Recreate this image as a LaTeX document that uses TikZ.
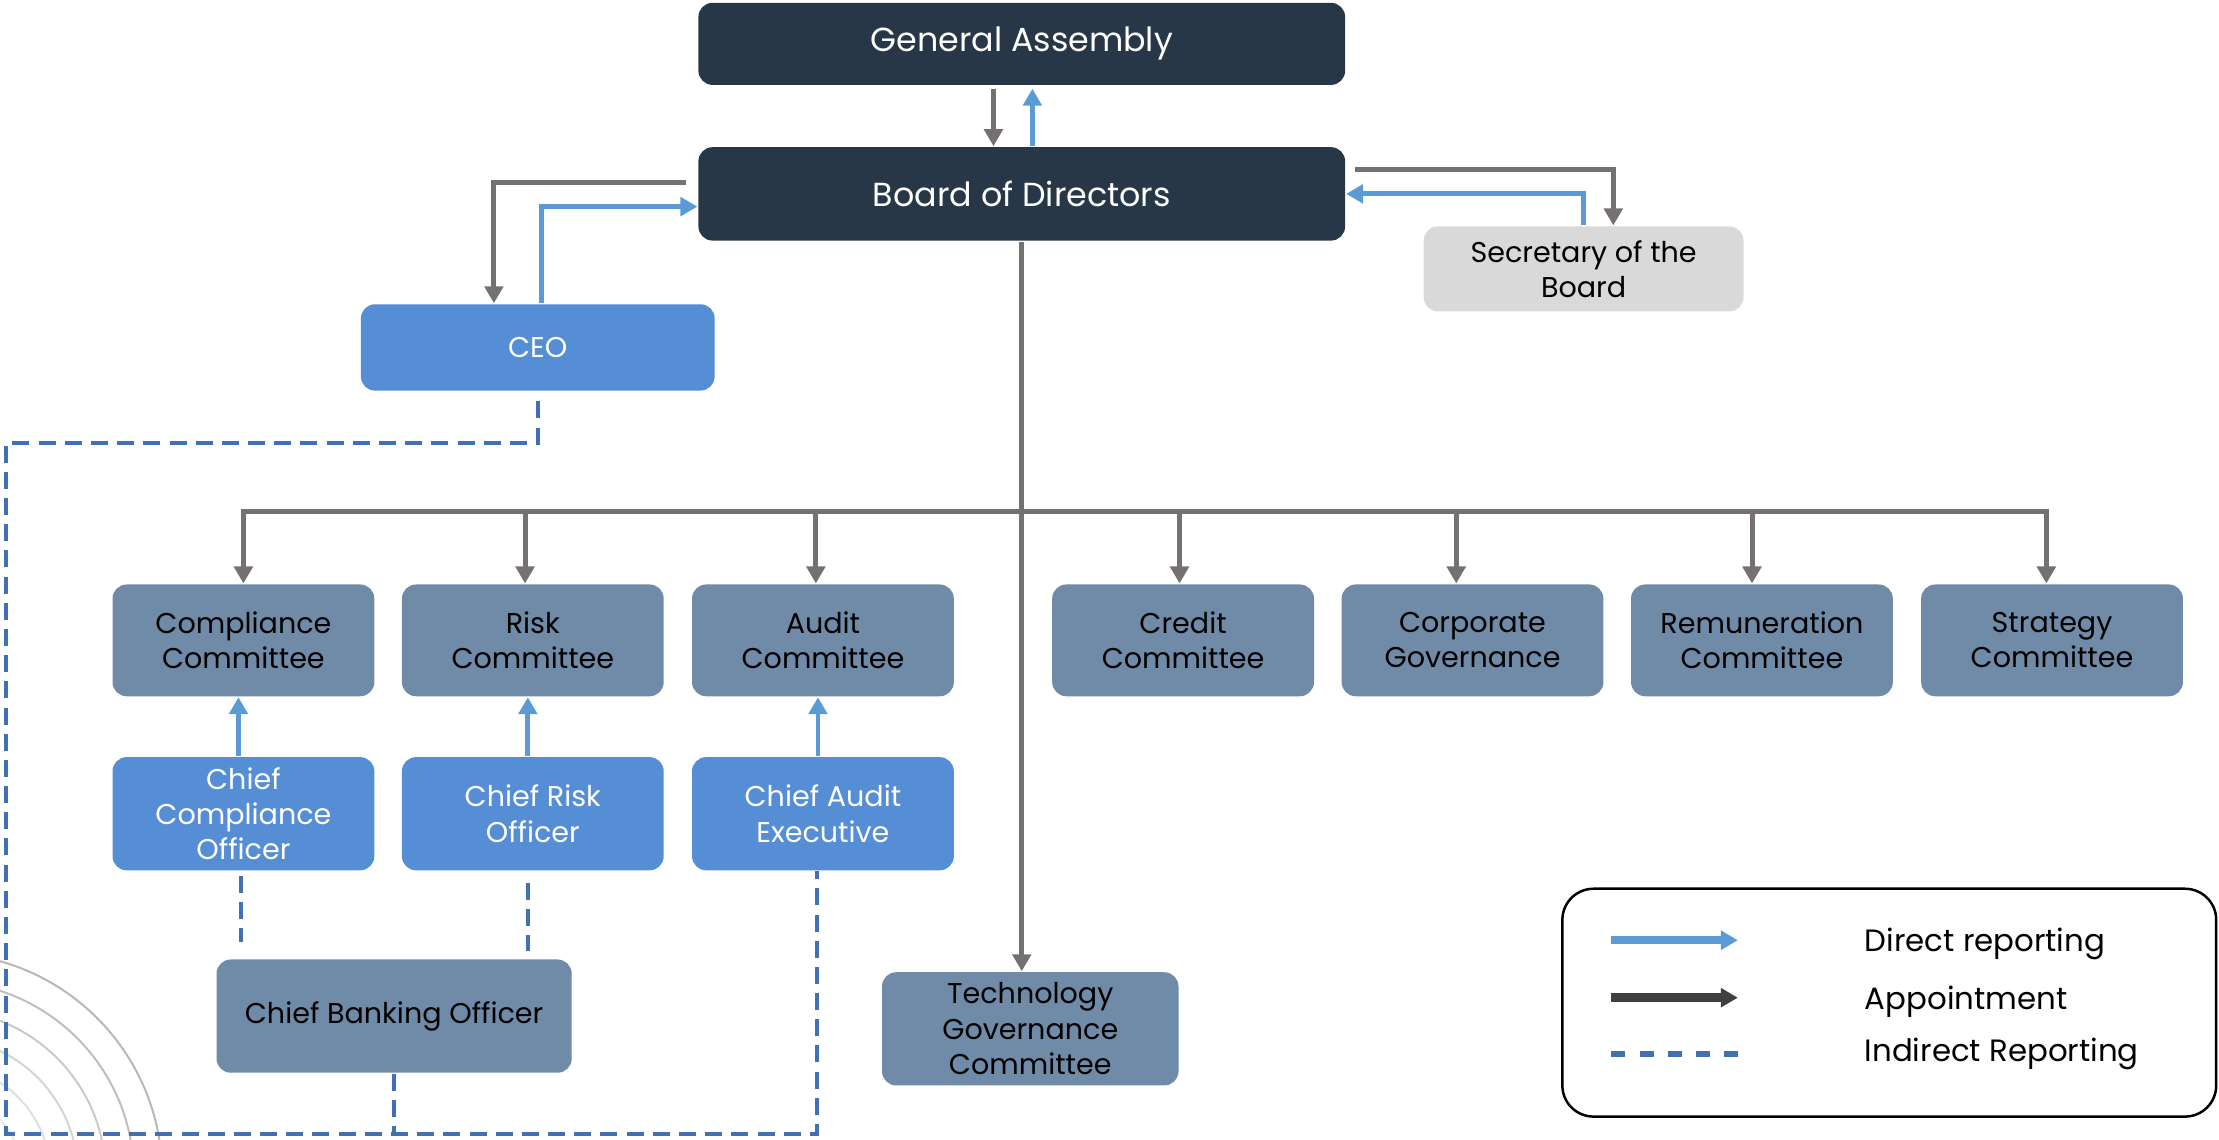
\documentclass[tikz,border=0pt]{standalone}
\usepackage{fontspec}
\setmainfont{Poppins}
\usetikzlibrary{arrows.meta}
\definecolor{navy}{HTML}{283747}
\definecolor{steel}{HTML}{6F8BA8}
\definecolor{officer}{HTML}{558ED5}
\definecolor{secgrey}{HTML}{D9D9D9}
\definecolor{apptgrey}{HTML}{767171}
\definecolor{reportblue}{HTML}{5B9BD5}
\definecolor{dashblue}{HTML}{4170B5}
\definecolor{arcgrey}{HTML}{B8B8B0}
\definecolor{legdark}{HTML}{3F3F3F}
\begin{document}
\begin{tikzpicture}[
    box/.style={rounded corners=0.1cm, inner sep=0pt, align=center, font=\fontsize{5.75}{7.1}\selectfont},
    board/.style={box, fill=navy, text=white, minimum width=4.57cm, font=\fontsize{6.7}{8}\selectfont},
    committee/.style={box, fill=steel, text=black, minimum width=1.85cm, minimum height=0.79cm},
    officer/.style={box, fill=officer, text=white, minimum width=1.85cm, minimum height=0.80cm},
    tip/.style={-{Triangle[length=0.12cm,width=0.13cm]}},
    appoint/.style={draw=apptgrey, line width=1pt, tip},
    report/.style={draw=reportblue, line width=1pt, tip},
    indirect/.style={draw=dashblue, line width=0.8pt, dash pattern=on 0.12cm off 0.065cm},
    legtext/.style={anchor=west, inner sep=0pt, font=\fontsize{6.2}{7.1}\selectfont},
  ]
  \useasboundingbox (0,0) rectangle (15.68,8.05);

  % corner arcs
  \begin{scope}
    \clip (0,0) rectangle (15.68,8.05);
    \foreach \r/\c in {1.57/100, 1.37/90, 1.17/75, 0.975/60, 0.78/45, 0.58/30}
      \draw[arcgrey!\c, line width=0.4pt] (-0.424,-0.254) circle (\r);
  \end{scope}

  % top
  \node[board, minimum height=0.58cm] (ga) at (7.22,7.74) {General Assembly};
  \node[board, minimum height=0.66cm] (bod) at (7.22,6.68) {Board of Directors};
  \node[box, fill=officer, text=white, minimum width=2.5cm, minimum height=0.61cm] (ceo) at (3.80,5.595) {CEO};
  \node[box, fill=secgrey, minimum width=2.26cm, minimum height=0.60cm] (sec) at (11.19,6.15) {Secretary of the\\Board};

  % committees
  \node[committee] (compl) at (1.72,3.525) {Compliance\\Committee};
  \node[committee] (risk) at (3.765,3.525) {Risk\\Committee};
  \node[committee] (audit) at (5.815,3.525) {Audit\\Committee};
  \node[committee] (credit) at (8.36,3.525) {Credit\\Committee};
  \node[committee] (corp) at (10.405,3.525) {Corporate\\Governance};
  \node[committee] (remun) at (12.45,3.525) {Remuneration\\Committee};
  \node[committee] (strat) at (14.50,3.525) {Strategy\\Committee};

  % officers
  \node[officer] (cco) at (1.72,2.30) {Chief\\Compliance\\Officer};
  \node[officer] (cro) at (3.765,2.30) {Chief Risk\\Officer};
  \node[officer] (cae) at (5.815,2.30) {Chief Audit\\Executive};
  \node[box, fill=steel, minimum width=2.51cm, minimum height=0.80cm] (cbo) at (2.785,0.87) {Chief Banking Officer};
  \node[committee, minimum width=2.095cm, minimum height=0.80cm] (tgc) at (7.28,0.78) {Technology\\Governance\\Committee};

  % board links
  \draw[appoint, shorten <=0.02cm] ([xshift=-2mm]ga.south) -- ([xshift=-2mm]bod.north);
  \draw[report, shorten >=0.02cm] ([xshift=0.75mm]bod.north) -- ([xshift=0.75mm]ga.south);
  \draw[appoint] ([xshift=-0.08cm,yshift=0.08cm]bod.west) -| ([xshift=-0.31cm]ceo.north);
  \draw[report] ([xshift=0.025cm]ceo.north) |- ([yshift=-0.09cm]bod.west);
  \draw[appoint] ([xshift=0.06cm,yshift=0.173cm]bod.east) -| ([xshift=0.21cm]sec.north);
  \draw[report] (sec.north) |- (bod.east);

  % trunk and bus
  \coordinate (bus) at (7.22,4.435);
  \draw[appoint] (bod.south) -- (bod.south |- tgc.north);
  \draw[draw=apptgrey, line width=1pt, line cap=rect] (compl.north |- bus) -- ([xshift=-0.4mm]strat.north |- bus);
  \foreach \c/\dx in {compl/0mm, risk/-0.55mm, audit/-0.5mm, credit/-0.25mm, corp/-1.15mm, remun/-0.7mm, strat/-0.4mm}
    \draw[appoint] ([xshift=\dx]\c.north |- bus) -- ([xshift=\dx]\c.north);

  % officers report up
  \foreach \o/\c in {cco/compl, cro/risk, cae/audit}
    \draw[report] ([xshift=-0.35mm]\o.north) -- ([xshift=-0.35mm]\c.south);

  % indirect
  \draw[indirect] ([yshift=-0.07cm]ceo.south) |- (0.043,4.92) |- ([xshift=-0.45mm]cae.south |- 0,0.035) -- ([xshift=-0.45mm]cae.south);
  \draw[indirect] (cbo.south) -- (cbo.south |- 0,0.035);
  \draw[indirect, shorten <=0.03cm, shorten >=0.12cm] ([xshift=-0.2mm]cco.south) -- ([xshift=-0.2mm]cco.south |- cbo.north);
  \draw[indirect, shorten <=0.08cm, shorten >=0.05cm] ([xshift=-0.35mm]cro.south) -- ([xshift=-0.35mm]cro.south |- cbo.north);

  % legend
  \draw[rounded corners=0.22cm, line width=0.5pt] (11.04,0.16) rectangle (15.66,1.77);
  \coordinate (dirA) at (11.385,1.406);
  \coordinate (dirB) at (12.28,1.406);
  \coordinate (appA) at (11.385,1.00);
  \coordinate (appB) at (12.28,1.00);
  \coordinate (indA) at (11.385,0.60);
  \coordinate (indB) at (12.28,0.60);
  \draw[report, line width=1.7pt] (dirA) -- (dirB);
  \draw[appoint, draw=legdark, line width=1.7pt] (appA) -- (appB);
  \draw[indirect, line width=1.2pt, dash pattern=on 0.1cm off 0.1cm] (indA) -- (indB);
  \node[legtext] (dirlbl) at (13.17,1.38) {Direct reporting};
  \node[legtext] (applbl) at (13.17,0.97) {Appointment};
  \node[legtext] (indlbl) at (13.17,0.60) {Indirect Reporting};
\end{tikzpicture}
\end{document}
